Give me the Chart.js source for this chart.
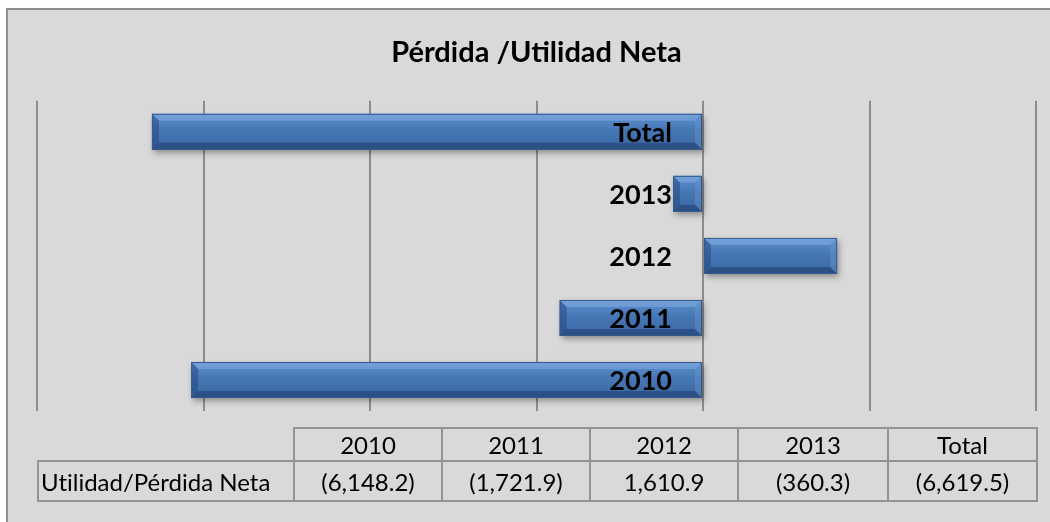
<!DOCTYPE html>
<html>
<head>
<meta charset="utf-8">
<script src="https://cdn.jsdelivr.net/npm/chart.js@4.4.0/dist/chart.umd.min.js"></script>
<style>
  html, body { margin: 0; padding: 0; background: #fff; }
  .frame {
    position: absolute; left: 6px; top: 8px; width: 1060px; height: 530px;
    background: #d9d9d9; border: 2px solid #8f8f8f; box-sizing: border-box;
  }
  #chart { position: absolute; left: 0; top: 0; }
  table.data {
    position: absolute; left: 37px; top: 427px; width: 999px; table-layout: fixed;
    border-collapse: collapse; font-family: Lato, sans-serif; font-size: 24px; color: #000;
    font-variant-ligatures: none;
  }
  table.data td { border: 2px solid #939393; padding: 0; text-align: center; white-space: nowrap; }
  table.data td.blank { border: none; border-right: 2px solid #939393; }
  table.data td.name { text-align: left; padding-left: 2px; }
  table.data tr.head td { height: 31px; }
  table.data tr.vals td { height: 38px; }
</style>
</head>
<body>
<div class="frame"></div>
<canvas id="chart" width="1050" height="522"></canvas>
<table class="data" id="dataTable"></table>

<script>
const categories = ['2010', '2011', '2012', '2013', 'Total'];
const netValues = [-6148.2, -1721.9, 1610.9, -360.3, -6619.5];
const rowName = 'Utilidad/Pérdida Neta';
const chartTitle = 'Pérdida /Utilidad Neta';

function fmt(v) {
  const s = Math.abs(v).toLocaleString('en-US', { minimumFractionDigits: 1, maximumFractionDigits: 1 });
  return v < 0 ? '(' + s + ')' : s;
}

// data table under the chart
const elemTable = document.querySelector('#dataTable');
const colWidths = [256, 148, 148, 148, 150, 149];
let cols = '<colgroup>';
colWidths.forEach(function(w) { cols += '<col style="width:' + w + 'px">'; });
cols += '</colgroup>';
let head = '<tr class="head"><td class="blank"></td>';
categories.forEach(function(c) {
  head += '<td>' + c + '</td>';
});
head += '</tr>';
let row = '<tr class="vals"><td class="name">' + rowName + '</td>';
netValues.forEach(function(v) {
  row += '<td>' + fmt(v) + '</td>';
});
row += '</tr>';
elemTable.innerHTML = cols + head + row;

// bevel + shadow look for the bars
const bevelPlugin = {
  id: 'bevel',
  beforeDatasetsDraw(chart) {
    const ctx = chart.ctx;
    ctx.save();
    ctx.shadowColor = 'rgba(0,0,0,0.35)';
    ctx.shadowBlur = 6;
    ctx.shadowOffsetX = 2;
    ctx.shadowOffsetY = 3;
  },
  afterDatasetsDraw(chart) {
    const ctx = chart.ctx;
    ctx.restore();
    const meta = chart.getDatasetMeta(0);
    meta.data.forEach(bar => {
      const left = Math.min(bar.x, bar.base);
      const right = Math.max(bar.x, bar.base);
      const top = bar.y - bar.height / 2;
      const bottom = bar.y + bar.height / 2;
      const b = Math.min(7, (right - left) / 2);
      ctx.save();
      // top bevel
      ctx.fillStyle = 'rgba(140,180,230,0.45)';
      ctx.beginPath();
      ctx.moveTo(left, top); ctx.lineTo(right, top);
      ctx.lineTo(right - b, top + b); ctx.lineTo(left + b, top + b);
      ctx.closePath(); ctx.fill();
      // left bevel
      ctx.fillStyle = 'rgba(30,65,120,0.45)';
      ctx.beginPath();
      ctx.moveTo(left, top); ctx.lineTo(left + b, top + b);
      ctx.lineTo(left + b, bottom - b); ctx.lineTo(left, bottom);
      ctx.closePath(); ctx.fill();
      // right bevel
      ctx.fillStyle = 'rgba(110,150,205,0.4)';
      ctx.beginPath();
      ctx.moveTo(right, top); ctx.lineTo(right - b, top + b);
      ctx.lineTo(right - b, bottom - b); ctx.lineTo(right, bottom);
      ctx.closePath(); ctx.fill();
      // bottom bevel
      ctx.fillStyle = 'rgba(25,50,95,0.45)';
      ctx.beginPath();
      ctx.moveTo(left, bottom); ctx.lineTo(right, bottom);
      ctx.lineTo(right - b, bottom - b); ctx.lineTo(left + b, bottom - b);
      ctx.closePath(); ctx.fill();
      ctx.strokeStyle = '#355a8a';
      ctx.lineWidth = 1;
      ctx.strokeRect(left + 0.5, top + 0.5, right - left - 1, bottom - top - 1);
      ctx.restore();
    });

    // category labels next to the zero line
    const xScale = chart.scales.x;
    const yScale = chart.scales.y;
    const zero = xScale.getPixelForValue(0);
    ctx.save();
    ctx.font = 'bold 27px Lato, sans-serif';
    ctx.fillStyle = '#000';
    ctx.textAlign = 'right';
    ctx.textBaseline = 'middle';
    categories.forEach((c, i) => {
      ctx.fillText(c, zero - 31, yScale.getPixelForValue(i) + 1);
    });
    ctx.restore();
  }
};

const ctx = document.querySelector('#chart').getContext('2d');

// eslint-disable-next-line no-undef
new Chart(ctx, {
  type: 'bar',
  data: {
    labels: categories,
    datasets: [{
      label: rowName,
      data: netValues,
      backgroundColor: function(context) {
        const chart = context.chart;
        if (!chart.chartArea) return '#4676b4';
        const y = chart.scales.y.getPixelForValue(context.dataIndex);
        const g = chart.ctx.createLinearGradient(0, y - 18, 0, y + 18);
        g.addColorStop(0, '#5e91d0');
        g.addColorStop(0.45, '#4677b5');
        g.addColorStop(1, '#3a67a2');
        return g;
      },
      borderWidth: 0,
      categoryPercentage: 1,
      barPercentage: 0.58,
    }]
  },
  options: {
    indexAxis: 'y',
    responsive: false,
    animation: false,
    layout: {
      padding: { left: 37, right: 14, top: 0, bottom: 111 }
    },
    scales: {
      x: {
        min: -8000,
        max: 4000,
        ticks: { display: false, stepSize: 2000 },
        grid: { color: '#8c8c8c', lineWidth: 2, drawTicks: false },
        border: { display: false }
      },
      y: {
        display: false,
        reverse: true
      }
    },
    plugins: {
      legend: { display: false },
      tooltip: { enabled: false },
      title: {
        display: true,
        text: chartTitle,
        color: '#000',
        font: { family: 'Lato', size: 29, weight: 'bold' },
        padding: { top: 35, bottom: 31 }
      }
    }
  },
  plugins: [bevelPlugin],
});
</script>
</body>
</html>
